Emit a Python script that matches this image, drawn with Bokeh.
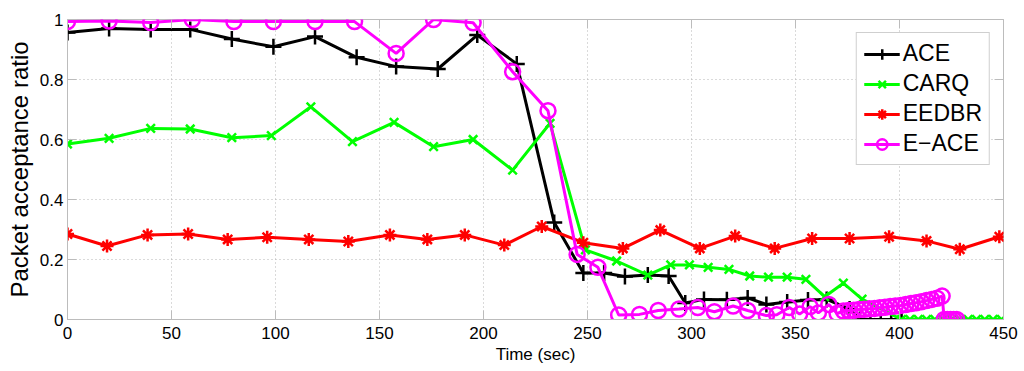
from bokeh.plotting import figure
from bokeh.models import LinearAxis, FixedTicker, Legend
from bokeh.embed import file_html
from bokeh.resources import INLINE

# ---------------- data ----------------
ace_t = [0, 20, 40, 59, 79, 99, 119, 139, 158, 178, 197, 216, 234, 248, 258, 268, 279, 289,
         297, 306, 317, 327, 336, 346, 356, 365, 376, 381, 386, 391, 396, 401]
ace_v = [0.957, 0.97, 0.967, 0.967, 0.935, 0.909, 0.943, 0.874, 0.843, 0.835, 0.948, 0.852,
         0.323, 0.155, 0.155, 0.143, 0.148, 0.145, 0.055, 0.067, 0.066, 0.072, 0.05, 0.058,
         0.065, 0.067, 0.035, 0, 0, 0, 0, 0]

carq_t = [0, 20, 40, 59, 79, 98, 117, 137, 157, 176, 195, 214, 232, 249, 264, 279, 290, 299,
          308, 318, 328, 337, 346, 355, 364, 373, 382, 401, 405, 409, 413, 417, 421, 425, 429,
          433, 437, 441, 445, 449]
carq_v = [0.585, 0.604, 0.637, 0.635, 0.606, 0.613, 0.709, 0.593, 0.657, 0.576, 0.6, 0.498,
          0.654, 0.232, 0.195, 0.148, 0.182, 0.182, 0.174, 0.167, 0.145, 0.141, 0.141, 0.134,
          0.076, 0.121, 0.068, 0, 0, 0, 0, 0, 0, 0, 0, 0, 0, 0, 0, 0]

eedbr_t = [0, 19, 38.5, 58, 77, 96, 116, 135, 155, 173, 191, 210, 228, 248, 267, 285, 304,
           321, 340, 358, 376, 395, 413, 429, 448]
eedbr_v = [0.285, 0.245, 0.282, 0.285, 0.267, 0.274, 0.267, 0.26, 0.282, 0.267, 0.282, 0.248,
           0.31, 0.256, 0.237, 0.298, 0.237, 0.278, 0.237, 0.27, 0.27, 0.276, 0.262, 0.234, 0.276]

eace_t = [0, 20, 40, 60, 80, 99, 119, 138, 158, 176, 195, 214, 231, 245, 255, 265, 275, 284,
          294, 303, 311, 320, 327, 336, 341, 347, 352, 357, 361, 366, 370,
          373, 375.5, 378, 380.5, 383, 385.5, 388, 390.5, 393, 395.5, 398, 400.5, 403, 405.5,
          408, 410.5, 413, 415.5, 418, 420.5, 421.5, 423, 424.5, 426, 427.5]
eace_v = [0.993, 0.995, 0.99, 1.0, 0.993, 0.993, 0.993, 0.993, 0.887, 1.0, 0.989, 0.826, 0.696,
          0.217, 0.174, 0.015, 0.017, 0.03, 0.035, 0.04, 0.026, 0.045, 0.03, 0.013, 0.016, 0.04,
          0.018, 0.043, 0.022, 0.05, 0.02,
          0.028, 0.03, 0.031, 0.033, 0.034, 0.036, 0.037, 0.039, 0.041, 0.043, 0.045, 0.047,
          0.05, 0.053, 0.056, 0.059, 0.063, 0.067, 0.071, 0.078, 0, 0, 0, 0, 0]

x_ticks = [0, 50, 100, 150, 200, 250, 300, 350, 400, 450]
y_ticks = [0, 0.2, 0.4, 0.6, 0.8, 1.0]
y_tick_labels = ["0", "0.2", "0.4", "0.6", "0.8", "1"]

FONT = "Liberation Sans"
AXIS_GRAY = "#bcbcbc"

p = figure(frame_width=936, frame_height=300,
           x_range=(0, 450), y_range=(0, 1),
           output_backend="svg", toolbar_location=None,
           min_border_left=67, min_border_right=19, min_border_top=19, min_border_bottom=45)
p.background_fill_color = "white"
p.border_fill_color = "white"
p.outline_line_color = AXIS_GRAY
p.outline_line_width = 1

xt = FixedTicker(ticks=x_ticks)
yt = FixedTicker(ticks=y_ticks)

for ax in (p.xaxis[0], p.yaxis[0]):
    ax.axis_line_color = AXIS_GRAY
    ax.major_tick_line_color = AXIS_GRAY
    ax.major_tick_in = 9
    ax.major_tick_out = 0
    ax.minor_tick_line_color = None
    ax.major_label_text_font = FONT
    ax.major_label_text_font_size = "17px"
    ax.major_label_text_color = "black"
    ax.axis_label_text_font = FONT
    ax.axis_label_text_font_style = "normal"
    ax.axis_label_text_color = "black"

p.xaxis[0].ticker = xt
p.yaxis[0].ticker = yt
p.yaxis[0].major_label_overrides = {v: s for v, s in zip(y_ticks, y_tick_labels)}
p.xaxis[0].axis_label = "Time (sec)"
p.xaxis[0].axis_label_text_font_size = "17px"
p.xaxis[0].major_label_standoff = 7
p.xaxis[0].axis_label_standoff = 3
p.yaxis[0].axis_label = "Packet acceptance ratio"
p.yaxis[0].axis_label_text_font_size = "24px"
p.yaxis[0].major_label_standoff = 4
p.yaxis[0].axis_label_standoff = 4

# mirror ticks on top and right (MATLAB box style), no labels drawn
top = LinearAxis(ticker=FixedTicker(ticks=x_ticks), axis_line_color=None,
                 major_tick_line_color=AXIS_GRAY, major_tick_in=9, major_tick_out=0,
                 minor_tick_line_color=None, major_label_text_color=None,
                 major_label_text_font_size="1px", major_label_standoff=0)
right = LinearAxis(ticker=FixedTicker(ticks=y_ticks), axis_line_color=None,
                   major_tick_line_color=AXIS_GRAY, major_tick_in=9, major_tick_out=0,
                   minor_tick_line_color=None, major_label_text_color=None,
                   major_label_text_font_size="1px", major_label_standoff=0)
p.add_layout(top, "above")
p.add_layout(right, "right")

for g in (p.xgrid[0], p.ygrid[0]):
    g.grid_line_color = "#b4b4b4"
    g.grid_line_dash = "1 3"
    g.grid_line_width = 1
p.xgrid[0].ticker = xt
p.ygrid[0].ticker = yt

LW = 3
items = []
specs = [
    ("ACE", ace_t, ace_v, "black", "cross", 16, None),
    ("CARQ", carq_t, carq_v, "#00ff00", "x", 12, None),
    ("EEDBR", eedbr_t, eedbr_v, "#ff0000", "asterisk", 13, None),
    ("E\u2212ACE", eace_t, eace_v, "#ff00ff", "circle", 15, None),
]
for name, t, v, c, mk, sz, fill in specs:
    l = p.line(t, v, line_color=c, line_width=LW)
    s = p.scatter(t, v, marker=mk, size=sz, line_color=c, line_width=2.5,
                  fill_color=fill)
    items.append((name, [l, s]))

legend = Legend(items=items, location="top_right")
legend.label_text_font = FONT
legend.label_text_font_size = "23px"
legend.label_text_color = "black"
legend.glyph_width = 36
legend.glyph_height = 26
legend.label_height = 26
legend.label_standoff = 3
legend.spacing = 3
legend.padding = 7
legend.margin = 13
legend.border_line_color = "#a0a0a0"
legend.border_line_width = 1
legend.background_fill_color = "white"
legend.background_fill_alpha = 1
p.add_layout(legend, "center")

open("out.html", "w").write(file_html(p, INLINE))
